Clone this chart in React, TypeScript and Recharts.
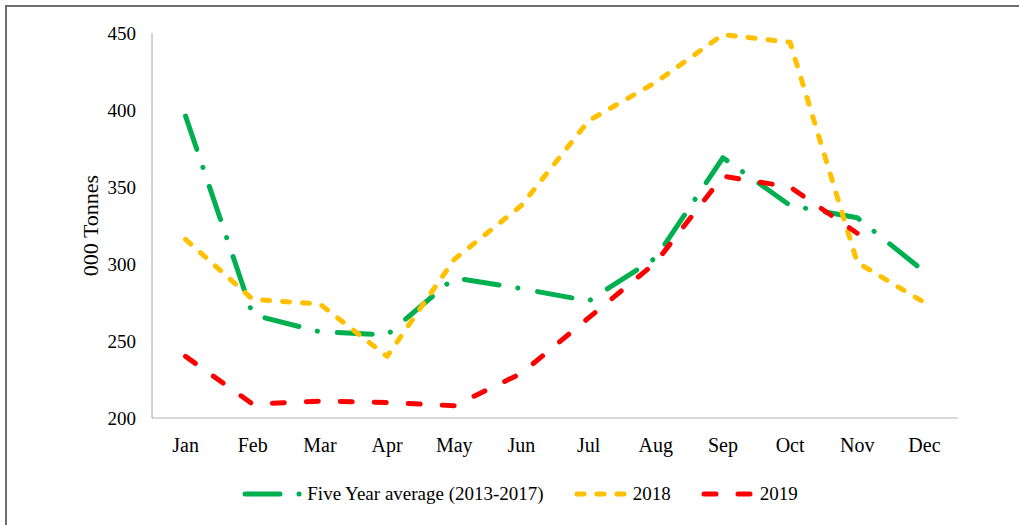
import { LineChart, Line, XAxis, YAxis, Legend } from 'recharts';

const months = ['Jan', 'Feb', 'Mar', 'Apr', 'May', 'Jun', 'Jul', 'Aug', 'Sep', 'Oct', 'Nov', 'Dec'];
const fiveYearAvg = [396, 267, 256, 254, 291, 284, 276, 304, 369, 338, 330, 295];
const y2018 = [316, 277, 274, 240, 303, 338, 393, 418, 449, 444, 301, 275];
const y2019: (number | null)[] = [240, 209, 211, 210, 208, 229, 265, 301, 357, 350, 320, null];
const yTicks = [200, 250, 300, 350, 400, 450];

const data = months.map((m, i) => ({
  month: m,
  avg: fiveYearAvg[i],
  y2018: y2018[i],
  y2019: y2019[i],
}));

const FONT = '"Liberation Serif", "Times New Roman", serif';

const series = [
  { key: 'avg', name: 'Five Year average (2013-2017)', color: '#00B050', dash: '35 19 0.1 20', icon: 58 },
  { key: 'y2018', name: '2018', color: '#FFC000', dash: '7 13', icon: 52 },
  { key: 'y2019', name: '2019', color: '#FF0000', dash: '12 22', icon: 52 },
];

function ChartLegend() {
  return (
    <div style={{ display: 'flex', justifyContent: 'center', alignItems: 'center', fontFamily: FONT, fontSize: 19, color: '#000', paddingTop: 8, paddingLeft: 82 }}>
      {series.map((s, i) => (
        <div key={s.key} style={{ display: 'flex', alignItems: 'center', marginLeft: i === 0 ? 0 : 30 }}>
          <svg width={s.icon + 3} height={12} style={{ marginRight: 4 }}>
            <line x1={3} y1={6} x2={s.icon} y2={6} stroke={s.color} strokeWidth={5} strokeDasharray={s.dash} strokeLinecap="round" />
          </svg>
          <span>{s.name}</span>
        </div>
      ))}
    </div>
  );
}

export default function App() {
  return (
    <div style={{ position: 'fixed', left: 0, top: 0, width: 1019, height: 525, overflow: 'hidden', background: '#fff' }}>
      <div style={{ position: 'absolute', left: 5, top: 5, width: 1100, height: 600, borderLeft: '2px solid #6e6e6e', borderTop: '2px solid #6e6e6e' }} />
      <div style={{ position: 'absolute', left: 0, top: 0 }}>
        <LineChart width={1019} height={525} data={data} margin={{ top: 33, right: 61, bottom: 0, left: 0 }}>
          <XAxis
            dataKey="month"
            scale="band"
            axisLine={{ stroke: '#d9d9d9', strokeWidth: 2 }}
            tickLine={false}
            tickMargin={14}
            height={57}
            interval={0}
            tick={{ fill: '#000', fontFamily: FONT, fontSize: 20 }}
          />
          <YAxis
            domain={[200, 450]}
            ticks={yTicks}
            width={152}
            axisLine={{ stroke: '#a6a6a6', strokeWidth: 1 }}
            tickLine={false}
            tickMargin={10}
            tick={{ fill: '#000', fontFamily: FONT, fontSize: 19 }}
            label={{ value: '000 Tonnes', angle: -90, position: 'insideLeft', dx: 85, style: { fill: '#000', fontFamily: FONT, fontSize: 22, textAnchor: 'middle' } }}
          />
          <Legend verticalAlign="bottom" height={50} content={() => <ChartLegend />} />
          {series.map((s) => (
            <Line
              key={s.key}
              type="linear"
              dataKey={s.key}
              name={s.name}
              stroke={s.color}
              strokeWidth={5}
              strokeDasharray={s.dash}
              strokeLinecap="round"
              strokeLinejoin="round"
              dot={false}
              activeDot={false}
              connectNulls={false}
              isAnimationActive={false}
            />
          ))}
        </LineChart>
      </div>
    </div>
  );
}
